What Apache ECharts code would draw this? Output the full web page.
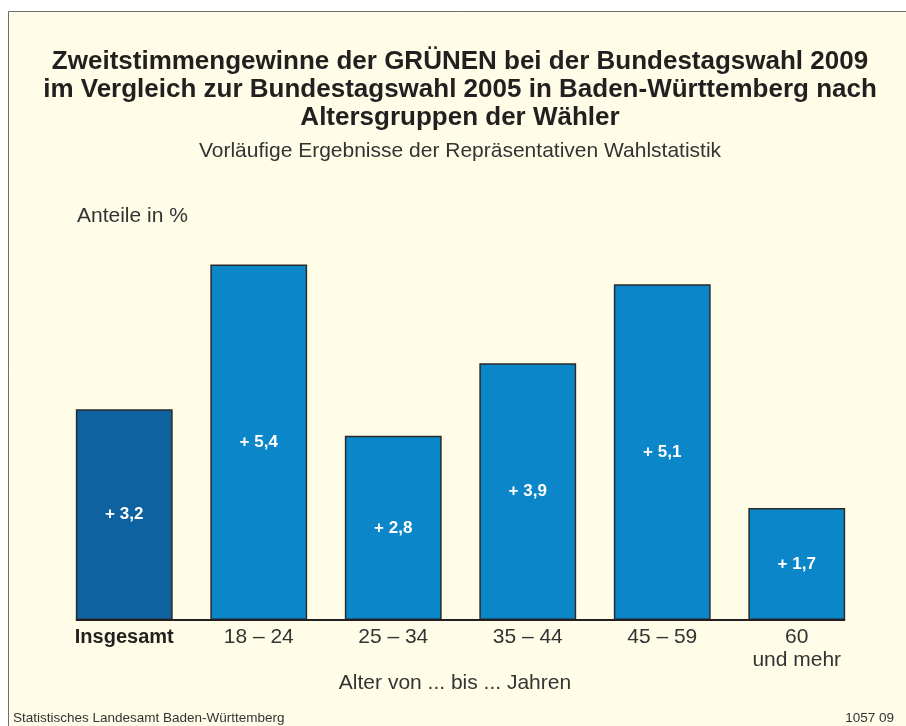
<!DOCTYPE html>
<html>
<head>
<meta charset="utf-8">
<script src="https://cdn.jsdelivr.net/npm/echarts@6/dist/echarts.min.js"></script>
<style>
  html, body { margin: 0; padding: 0; background: #fff; }
  #main { width: 906px; height: 726px; }
</style>
</head>
<body>
<div id="main"></div>
<script>
var categories = ['Insgesamt', '18 – 24', '25 – 34', '35 – 44', '45 – 59', '60\nund mehr'];
var gains = [3.2, 5.4, 2.8, 3.9, 5.1, 1.7];
var barColors = ['#0F62A0', '#0B86C9', '#0B86C9', '#0B86C9', '#0B86C9', '#0B86C9'];

var font = '"Liberation Sans", Arial, sans-serif';
var chart = echarts.init(document.getElementById('main'));

var option = {
    animation: false,
    textStyle: { fontFamily: font },
    graphic: [
        {
            type: 'rect',
            z: -10,
            shape: { x: 8.5, y: 11.5, width: 920, height: 740 },
            style: { fill: '#FFFDE7', stroke: '#6e6e6e', lineWidth: 1 }
        },
        {
            type: 'text', x: 460, y: 48,
            style: {
                text: 'Zweitstimmengewinne der GRÜNEN bei der Bundestagswahl 2009\nim Vergleich zur Bundestagswahl 2005 in Baden-Württemberg nach\nAltersgruppen der Wähler',
                font: 'bold 26px ' + font, fill: '#231f20', align: 'center', verticalAlign: 'top', lineHeight: 28
            }
        },
        {
            type: 'text', x: 460, y: 141,
            style: {
                text: 'Vorläufige Ergebnisse der Repräsentativen Wahlstatistik',
                font: '21px ' + font, fill: '#333', align: 'center', verticalAlign: 'top'
            }
        },
        {
            type: 'text', x: 77, y: 206,
            style: { text: 'Anteile in %', font: '21px ' + font, fill: '#333', verticalAlign: 'top' }
        },
        {
            type: 'text', x: 455, y: 673,
            style: { text: 'Alter von ... bis ... Jahren', font: '21px ' + font, fill: '#333', align: 'center', verticalAlign: 'top' }
        },
        {
            type: 'text', x: 13, y: 711,
            style: { text: 'Statistisches Landesamt Baden-Württemberg', font: '13.5px ' + font, fill: '#333', verticalAlign: 'top' }
        },
        {
            type: 'text', x: 894, y: 711,
            style: { text: '1057 09', font: '13.5px ' + font, fill: '#333', align: 'right', verticalAlign: 'top' }
        }
    ],
    grid: { left: 57, right: 42, top: 225, bottom: 106 },
    xAxis: {
        type: 'category',
        data: categories,
        axisLine: { show: false },
        axisTick: { show: false },
        axisLabel: {
            interval: 0,
            margin: 6,
            fontSize: 21,
            color: '#333',
            lineHeight: 23,
            formatter: function (v, i) {
                return i === 0 ? '{b|' + v + '}' : v;
            },
            rich: { b: { fontWeight: 'bold', fontSize: 20, color: '#231f20' } }
        }
    },
    yAxis: {
        type: 'value',
        min: 0,
        max: 6,
        show: false,
        splitLine: { show: false }
    },
    series: [{
        type: 'bar',
        barCategoryGap: '28%',
        data: gains.map(function (v, i) {
            return { value: v, itemStyle: { color: barColors[i] } };
        }),
        itemStyle: { borderColor: '#2a2a2a', borderWidth: 1.5 },
        label: {
            show: true,
            position: 'inside',
            color: '#fff',
            fontWeight: 'bold',
            fontSize: 17,
            formatter: function (p) {
                return '+ ' + String(p.value).replace('.', ',');
            }
        }
    }]
};
chart.setOption(option);

// baseline spans from first bar's left edge to last bar's right edge
var barData = chart.getModel().getSeriesByIndex(0).getData();
var layout0 = barData.getItemLayout(0);
var layoutN = barData.getItemLayout(gains.length - 1);
var baseY = chart.convertToPixel({ yAxisIndex: 0 }, 0);
var g = option.graphic.slice();
g.push({
    type: 'line', z: 10,
    shape: { x1: layout0.x, y1: baseY, x2: layoutN.x + layoutN.width, y2: baseY },
    style: { stroke: '#231f20', lineWidth: 2 }
});
chart.setOption({ graphic: g });
</script>
</body>
</html>
